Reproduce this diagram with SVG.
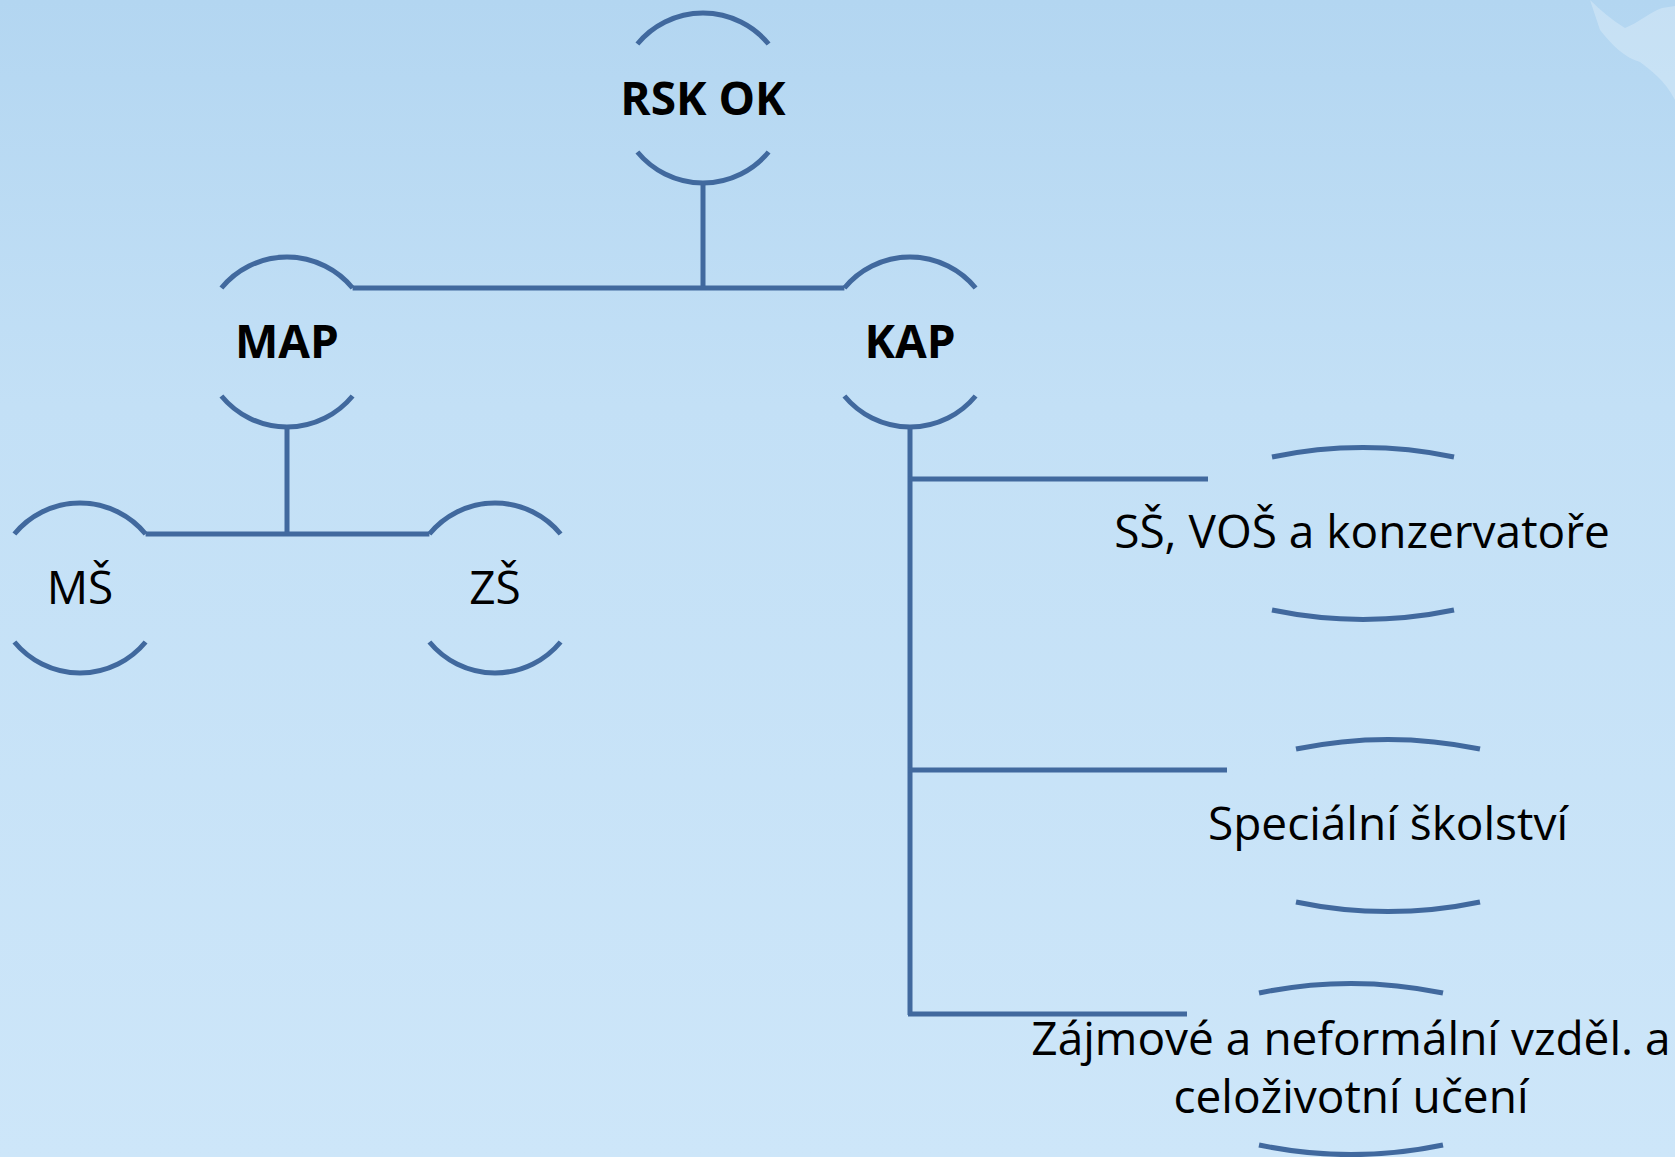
<svg xmlns="http://www.w3.org/2000/svg" width="1675" height="1157" viewBox="0 0 1675 1157">
<defs>
<linearGradient id="bg" x1="0" y1="0" x2="0" y2="1">
<stop offset="0" stop-color="#b3d6f1"/>
<stop offset="0.35" stop-color="#c3e0f6"/>
<stop offset="1" stop-color="#cde6f9"/>
</linearGradient>
<style>
.ln{fill:none;stroke:#41699e;stroke-width:5;}
.b{font-family:"Open Sans","Noto Sans",sans-serif;font-weight:bold;font-size:46px;fill:#000;text-anchor:middle;}
.r{font-family:"Open Sans","Noto Sans",sans-serif;font-size:46px;fill:#000;text-anchor:middle;}
</style>
</defs>
<rect width="1675" height="1157" fill="url(#bg)"/>
<path d="M1590,0 C1600,10 1612,20 1625,28 C1640,22 1650,12 1662,8 L1675,6 L1675,100 C1665,80 1650,70 1640,62 C1625,58 1612,45 1600,30 Z" fill="#ffffff" opacity="0.25"/>
<g id="connectors" class="ln">
<line x1="703" y1="183" x2="703" y2="288"/>
<line x1="352.6" y1="288" x2="844.4" y2="288"/>
<line x1="287" y1="427" x2="287" y2="534"/>
<line x1="145.6" y1="534" x2="429.4" y2="534"/>
<line x1="910" y1="427" x2="910" y2="1015"/>
<line x1="908" y1="479" x2="1208" y2="479"/>
<line x1="908" y1="770" x2="1227" y2="770"/>
<line x1="908" y1="1014" x2="1187" y2="1014"/>
</g>
<g id="rsk">
<path class="ln" d="M637.4,44 A85,85 0 0 1 768.6,44 M637.4,152 A85,85 0 0 0 768.6,152"/>
<text class="b" x="703" y="115">RSK OK</text>
</g>
<g id="map">
<path class="ln" d="M221.4,288 A85,85 0 0 1 352.6,288 M221.4,396 A85,85 0 0 0 352.6,396"/>
<text class="b" x="287" y="358">MAP</text>
</g>
<g id="kap">
<path class="ln" d="M844.4,288 A85,85 0 0 1 975.6,288 M844.4,396 A85,85 0 0 0 975.6,396"/>
<text class="b" x="910" y="358">KAP</text>
</g>
<g id="ms">
<path class="ln" d="M14.4,534 A85,85 0 0 1 145.6,534 M14.4,642 A85,85 0 0 0 145.6,642"/>
<text class="r" x="80" y="604">MŠ</text>
</g>
<g id="zs">
<path class="ln" d="M429.4,534 A85,85 0 0 1 560.6,534 M429.4,642 A85,85 0 0 0 560.6,642"/>
<text class="r" x="495" y="604">ZŠ</text>
</g>
<g id="ss">
<path class="ln" d="M1272,457 A450,450 0 0 1 1454,457 M1272,610 A450,450 0 0 0 1454,610"/>
<text class="r" x="1362" y="548">SŠ, VOŠ a konzervatoře</text>
</g>
<g id="spec">
<path class="ln" d="M1296,749 A450,450 0 0 1 1480,749 M1296,902 A450,450 0 0 0 1480,902"/>
<text class="r" x="1388" y="840">Speciální školství</text>
</g>
<g id="zajm">
<path class="ln" d="M1259,993 A450,450 0 0 1 1443,993 M1259,1145 A450,450 0 0 0 1443,1145"/>
<text class="r" x="1351" y="1055">Zájmové a neformální vzděl. a</text>
<text class="r" x="1351" y="1113">celoživotní učení</text>
</g>
</svg>
